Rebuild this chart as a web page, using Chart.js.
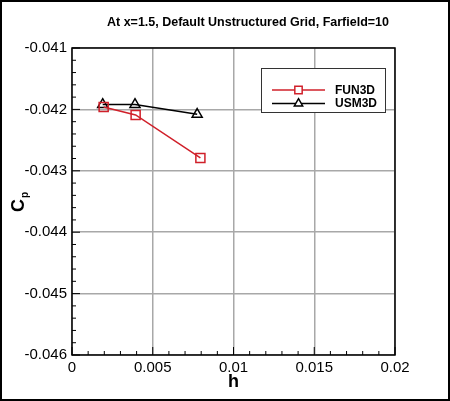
<!DOCTYPE html>
<html>
<head>
<meta charset="utf-8">
<script src="https://cdn.jsdelivr.net/npm/chart.js@4/dist/chart.umd.min.js"></script>
<style>
  html, body { margin: 0; padding: 0; background: #fff; }
  canvas { display: block; }
</style>
</head>
<body>
<canvas id="chart" width="450" height="401"></canvas>
<script>
// values
const titleText = 'At x=1.5, Default Unstructured Grid, Farfield=10';
const seriesNames = ['FUN3D', 'USM3D'];
const hFun3d = [0.00196, 0.00394, 0.00795];
const cpFun3d = [-0.04196, -0.04209, -0.04279];
const hUsm3d = [0.0019, 0.0039, 0.00775];
const cpUsm3d = [-0.04192, -0.04192, -0.04208];
const xTicks = [0, 0.005, 0.01, 0.015, 0.02];
const xTickLabels = ['0', '0.005', '0.01', '0.015', '0.02'];
const yTicks = [-0.046, -0.045, -0.044, -0.043, -0.042, -0.041];
const yTickLabels = ['-0.046', '-0.045', '-0.044', '-0.043', '-0.042', '-0.041'];

const FONT = '"Liberation Sans", Arial, Helvetica, sans-serif';
const RED = '#d0202a';

function toPoints(xs, ys) {
  return xs.map((x, i) => ({ x: x, y: ys[i] }));
}

// frame, inward ticks, titles, legend
const decorations = {
  id: 'decorations',
  afterDraw(chart) {
    const ctx = chart.ctx;
    const a = chart.chartArea;
    const xs = chart.scales.x;
    const ys = chart.scales.y;
    ctx.save();

    // plot frame
    ctx.strokeStyle = '#000';
    ctx.lineWidth = 1.5;
    ctx.strokeRect(a.left, a.top, a.right - a.left, a.bottom - a.top);

    // inward ticks: majors and minors
    ctx.lineWidth = 1;
    ctx.beginPath();
    for (let i = 0; i <= 20; i++) {
      const px = xs.getPixelForValue(i * 0.001);
      const len = i % 5 === 0 ? 8 : 4;
      ctx.moveTo(px, a.bottom);
      ctx.lineTo(px, a.bottom - len);
    }
    for (let i = 0; i <= 25; i++) {
      const py = ys.getPixelForValue(-0.046 + i * 0.0002);
      const len = i % 5 === 0 ? 8 : 4;
      ctx.moveTo(a.left, py);
      ctx.lineTo(a.left + len, py);
    }
    ctx.stroke();

    // title
    ctx.fillStyle = '#000';
    ctx.font = 'bold 12.5px ' + FONT;
    ctx.textAlign = 'center';
    ctx.textBaseline = 'middle';
    ctx.fillText(titleText, 248, 23);

    // x axis label
    ctx.font = 'bold 18px ' + FONT;
    ctx.fillText('h', (a.left + a.right) / 2, 382);

    // y axis label C_p, rotated
    ctx.save();
    ctx.translate(24, 205);
    ctx.rotate(-Math.PI / 2);
    ctx.textAlign = 'left';
    ctx.textBaseline = 'alphabetic';
    ctx.font = 'bold 18px ' + FONT;
    ctx.fillText('C', -7, 0);
    const cw = ctx.measureText('C').width;
    ctx.font = 'bold 10px ' + FONT;
    ctx.fillText('p', -7 + cw + 1, 4);
    ctx.restore();

    // legend box
    const bx = 261.5, by = 68.5, bw = 124, bh = 44;
    ctx.fillStyle = '#fff';
    ctx.fillRect(bx, by, bw, bh);
    ctx.strokeStyle = '#333';
    ctx.lineWidth = 1;
    ctx.strokeRect(bx, by, bw, bh);
    chart.data.datasets.forEach((ds, i) => {
      const ry = 90 + i * 13.5;
      ctx.strokeStyle = ds.borderColor;
      ctx.lineWidth = 1.5;
      ctx.beginPath();
      ctx.moveTo(272, ry);
      ctx.lineTo(325, ry);
      ctx.stroke();
      ctx.fillStyle = '#fff';
      Chart.helpers.drawPoint(ctx, {
        pointStyle: ds.pointStyle,
        radius: ds.pointStyle === 'rect' ? 5.2 : 4.8,
        rotation: 0,
        borderWidth: 1.5
      }, 298.5, ry);
      ctx.fillStyle = '#000';
      ctx.font = 'bold 12px ' + FONT;
      ctx.textAlign = 'left';
      ctx.textBaseline = 'middle';
      ctx.fillText(ds.label, 335, ry + 0.5);
    });

    ctx.restore();
  }
};

// outer picture border
const outerBorder = {
  id: 'outerBorder',
  afterDraw(chart) {
    const ctx = chart.ctx;
    ctx.save();
    ctx.strokeStyle = '#000';
    ctx.lineWidth = 2;
    ctx.strokeRect(1, 1, chart.width - 2, chart.height - 2);
    ctx.restore();
  }
};

const ctx = document.getElementById('chart').getContext('2d');
new Chart(ctx, {
  type: 'scatter',
  data: {
    datasets: [
      {
        label: seriesNames[0],
        data: toPoints(hFun3d, cpFun3d),
        showLine: true,
        borderColor: RED,
        backgroundColor: 'rgba(0,0,0,0)',
        borderWidth: 1.5,
        pointStyle: 'rect',
        pointRadius: 6.4,
        pointBorderWidth: 1.5,
        pointBackgroundColor: 'rgba(0,0,0,0)'
      },
      {
        label: seriesNames[1],
        data: toPoints(hUsm3d, cpUsm3d),
        showLine: true,
        borderColor: '#000',
        backgroundColor: 'rgba(0,0,0,0)',
        borderWidth: 1.5,
        pointStyle: 'triangle',
        pointRadius: 5.8,
        pointBorderWidth: 1.5,
        pointBackgroundColor: 'rgba(0,0,0,0)'
      }
    ]
  },
  options: {
    responsive: false,
    animation: false,
    devicePixelRatio: 1,
    layout: { padding: { top: 48, right: 55, left: 0, bottom: 0 } },
    plugins: {
      legend: { display: false },
      title: { display: false },
      tooltip: { enabled: false }
    },
    scales: {
      x: {
        type: 'linear',
        min: 0,
        max: 0.02,
        afterFit: (s) => { s.height = 46; },
        afterBuildTicks: (s) => { s.ticks = xTicks.map((v) => ({ value: v })); },
        ticks: {
          padding: 4,
          color: '#000',
          font: { family: FONT, size: 15 },
          callback: (v, i) => xTickLabels[i]
        },
        grid: { color: '#a8a8a8', lineWidth: 1.5, drawTicks: false },
        border: { display: false }
      },
      y: {
        type: 'linear',
        min: -0.046,
        max: -0.041,
        afterFit: (s) => { s.width = 72; },
        afterBuildTicks: (s) => { s.ticks = yTicks.map((v) => ({ value: v })); },
        ticks: {
          padding: 5,
          color: '#000',
          font: { family: FONT, size: 15 },
          callback: (v, i) => yTickLabels[i]
        },
        grid: { color: '#a8a8a8', lineWidth: 1.5, drawTicks: false },
        border: { display: false }
      }
    }
  },
  plugins: [decorations, outerBorder]
});
</script>
</body>
</html>
